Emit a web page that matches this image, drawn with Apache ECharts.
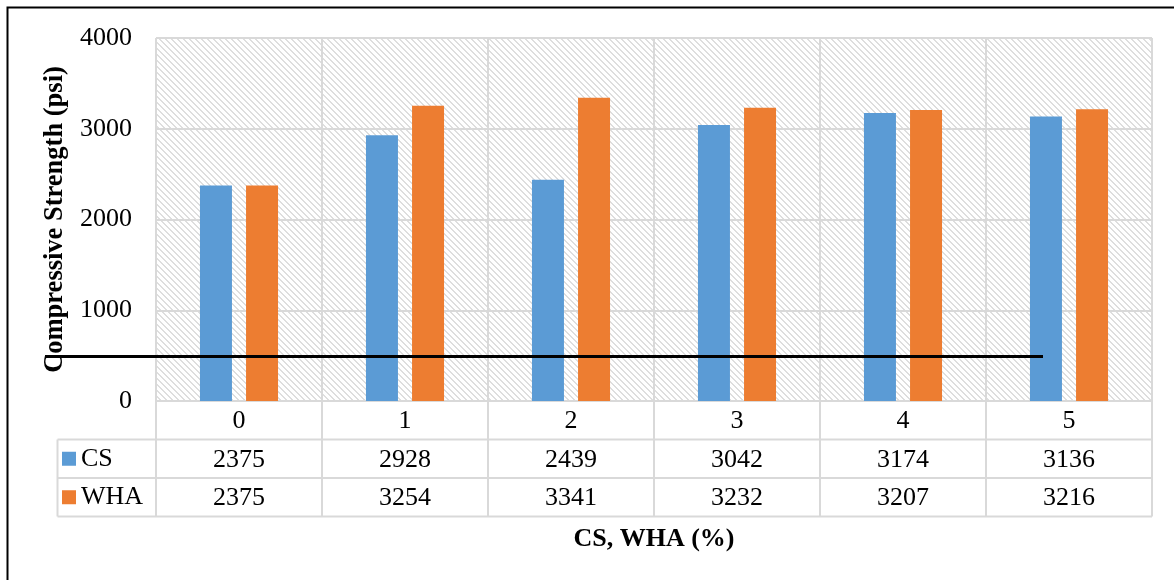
<!DOCTYPE html>
<html>
<head>
<meta charset="utf-8">
<script src="https://cdn.jsdelivr.net/npm/echarts@6/dist/echarts.min.js"></script>
<style>
  html, body { margin: 0; padding: 0; background: #ffffff; }
  #chart { width: 1174px; height: 580px; }
</style>
</head>
<body>
<div id="chart"></div>
<script>
// Compressive strength for each replacement percentage
const categories = ['0', '1', '2', '3', '4', '5'];
const csValues = [2375, 2928, 2439, 3042, 3174, 3136];
const whaValues = [2375, 3254, 3341, 3232, 3207, 3216];
const seriesNames = ['CS', 'WHA'];
const yAxisTitle = 'Compressive Strength (psi)';
const xAxisTitle = 'CS, WHA (%)';

const FONT = "'Liberation Serif', 'Times New Roman', serif";
const FS = 26;
const BLUE = '#5B9BD5';
const ORANGE = '#ED7D31';
const GRIDLINE = '#d9d9d9';

// Plot area and data-table geometry
const W = 1174, H = 580;
const plotLeft = 156, plotTop = 38, plotRight = 1152, plotBottom = 401;
const rowH = 38.5;
const legendColLeft = 57.5;

// Diagonal hatch used as the plot-area fill
function hatchTile() {
  const n = 6;
  const c = document.createElement('canvas');
  c.width = n; c.height = n;
  const ctx = c.getContext('2d');
  ctx.fillStyle = '#ffffff';
  ctx.fillRect(0, 0, n, n);
  ctx.fillStyle = '#dedede';
  for (let y = 0; y < n; y++) {
    for (let x = 0; x < n; x++) {
      const d = ((x - y) % n + n) % n;
      if (d < 2) ctx.fillRect(x, y, 1, 1);
    }
  }
  return c;
}

const chart = echarts.init(document.getElementById('chart'), null, { renderer: 'canvas' });

// Data-table borders below the plot
const tableLines = [];
const colW = (plotRight - plotLeft) / categories.length;
const tableBottom = plotBottom + rowH * 3;
for (let i = 0; i <= categories.length; i++) {
  const x = plotLeft + i * colW;
  tableLines.push({ x1: x, y1: plotBottom, x2: x, y2: tableBottom });
}
tableLines.push({ x1: legendColLeft, y1: plotBottom + rowH, x2: legendColLeft, y2: tableBottom });
for (let r = 1; r <= 3; r++) {
  const y = plotBottom + rowH * r;
  tableLines.push({ x1: legendColLeft, y1: y, x2: plotRight, y2: y });
}

const graphics = tableLines.map(l => ({
  type: 'line',
  silent: true,
  z: 1,
  shape: l,
  style: { stroke: GRIDLINE, lineWidth: 2 }
}));

// Outer frame
graphics.push({
  type: 'rect', silent: true, z: 10,
  shape: { x: 7.5, y: 7.5, width: W + 20, height: H + 20 },
  style: { fill: null, stroke: '#000000', lineWidth: 2 }
});
// Horizontal reference stroke across the chart
graphics.push({
  type: 'line', silent: true, z: 100,
  shape: { x1: 45, y1: 356.5, x2: 1043, y2: 356.5 },
  style: { stroke: '#000000', lineWidth: 3 }
});

const option = {
  animation: false,
  backgroundColor: '#ffffff',
  textStyle: { fontFamily: FONT },
  grid: {
    left: plotLeft,
    top: plotTop,
    right: W - plotRight,
    bottom: H - plotBottom,
    show: true,
    borderWidth: 0,
    backgroundColor: { image: hatchTile(), repeat: 'repeat' }
  },
  legend: {
    data: seriesNames,
    orient: 'vertical',
    left: 62,
    top: plotBottom + rowH,
    itemGap: 0,
    itemWidth: 14,
    itemHeight: 14,
    icon: 'rect',
    padding: 0,
    textStyle: { fontFamily: FONT, fontSize: FS, color: '#000000', lineHeight: rowH }
  },
  xAxis: {
    type: 'category',
    data: categories,
    name: xAxisTitle,
    nameLocation: 'middle',
    nameGap: 125,
    nameTextStyle: { fontFamily: FONT, fontSize: FS, fontWeight: 'bold', color: '#000000' },
    axisLine: { show: true, lineStyle: { color: GRIDLINE, width: 2 } },
    axisTick: { show: false },
    splitLine: { show: true, lineStyle: { color: GRIDLINE, width: 2 } },
    axisLabel: {
      margin: 1,
      fontFamily: FONT,
      fontSize: FS,
      color: '#000000',
      lineHeight: rowH,
      formatter: (val, idx) => val + '\n' + csValues[idx] + '\n' + whaValues[idx]
    }
  },
  yAxis: {
    type: 'value',
    min: 0,
    max: 4000,
    interval: 1000,
    name: yAxisTitle,
    nameLocation: 'middle',
    nameGap: 80,
    nameTextStyle: { fontFamily: FONT, fontSize: 26.5, fontWeight: 'bold', color: '#000000' },
    axisLine: { show: false },
    axisTick: { show: false },
    splitLine: { show: true, lineStyle: { color: GRIDLINE, width: 2 } },
    axisLabel: {
      margin: 24,
      fontFamily: FONT,
      fontSize: FS,
      color: '#000000',
      formatter: v => String(v)
    }
  },
  series: [
    {
      name: seriesNames[0],
      type: 'bar',
      data: csValues,
      barWidth: 32,
      barGap: '44%',
      itemStyle: { color: BLUE }
    },
    {
      name: seriesNames[1],
      type: 'bar',
      data: whaValues,
      barWidth: 32,
      itemStyle: { color: ORANGE }
    }
  ],
  graphic: graphics
};

chart.setOption(option);
</script>
</body>
</html>
